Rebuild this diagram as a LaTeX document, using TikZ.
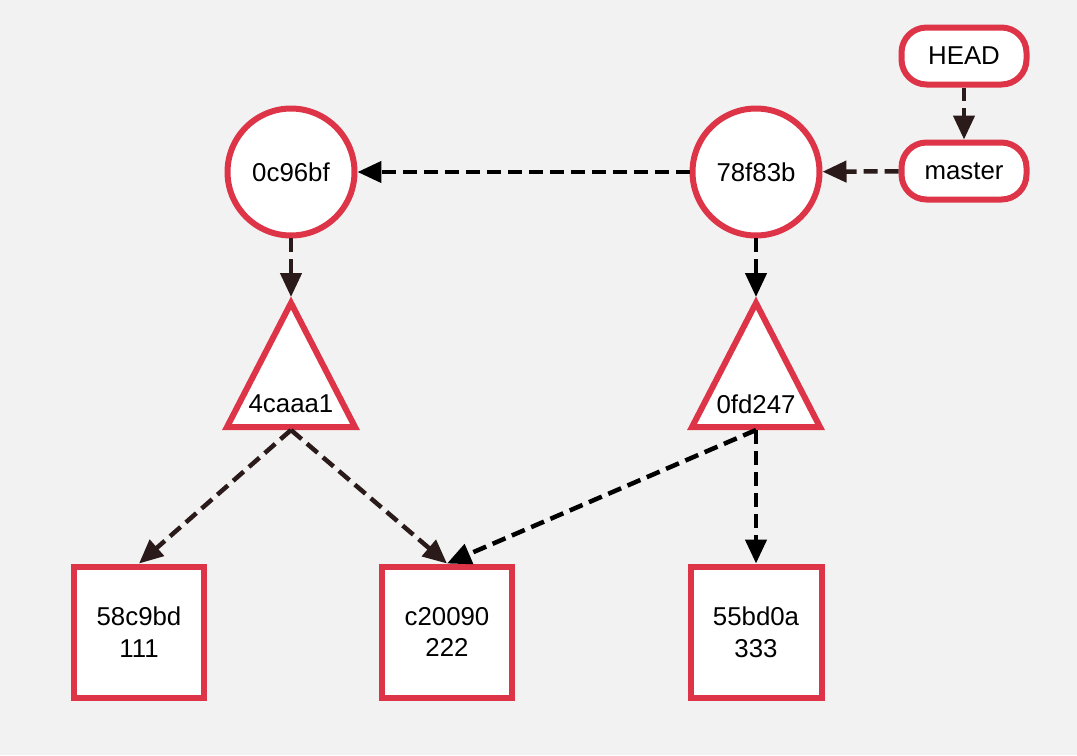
\documentclass[tikz,border=0pt]{standalone}
\usepackage{fontspec}
\setmainfont{Liberation Sans}
\usetikzlibrary{arrows.meta,calc,positioning}
\definecolor{gitred}{RGB}{222,52,72}
\definecolor{bggrey}{RGB}{242,242,242}
\definecolor{darkbrown}{RGB}{43,26,26}
\newcommand{\gitfont}{\fontsize{14.7pt}{18pt}\selectfont}

\begin{document}
\begin{tikzpicture}[x=0.02cm,y=-0.02cm]

\tikzset{commitnode/.style={font=\gitfont,shape=circle,draw=gitred,fill=white,line width=0.12cm,minimum size=2.54cm,inner sep=0pt},
blobnode/.style={font=\gitfont,shape=rectangle,draw=gitred,fill=white,line width=0.12cm,minimum size=2.62cm,inner sep=0pt,align=center},
refnode/.style={font=\gitfont,shape=rectangle,draw=gitred,fill=white,line width=0.12cm,rounded corners=0.5cm,minimum width=2.5cm,minimum height=1.14cm,inner sep=0pt},
treeline/.style={draw=gitred,fill=white,line width=0.12cm},
pointer/.style={color=darkbrown,line width=0.09cm,dash pattern=on 0.28cm off 0.14cm,-{Triangle[length=0.48cm,width=0.42cm]}},
blackpointer/.style={pointer,color=black}}

% Background
\fill[bggrey] (0,0) rectangle (1077,755);
\useasboundingbox (0,0) rectangle (1077,755);

% refs
\node[refnode] (head) at (964,56) {HEAD};
\node[refnode] (master) at (964,171) {master};

% commits
\node[commitnode] (c78f83b) at (756,172) {78f83b};
\node[commitnode] (c0c96bf) at (291,172) {0c96bf};

% trees
\foreach \x/\h in {291/4caaa1, 756/0fd247} {
  \draw[treeline] (\x,303) -- (\x+64,427) -- (\x-64,427) -- cycle;
  \coordinate (top\h) at (\x,297);
  \coordinate (base\h) at (\x,430);
  \node[font=\gitfont] (t\h) at (\x,404) {\h};
}

% blobs
\node[blobnode] (b58c9bd) at (139,632) {58c9bd\\111};
\node[blobnode] (bc20090) at (447,632) {c20090\\222};
\node[blobnode] (b55bd0a) at (756,632) {55bd0a\\333};

% Edges
\draw[pointer] (head) -- (master);
\draw[pointer] (master) -- (c78f83b);
\draw[blackpointer] (c78f83b) -- (c0c96bf);
\draw[pointer] (c0c96bf) -- (top4caaa1);
\draw[blackpointer] (c78f83b) -- (top0fd247);
\draw[pointer] (base4caaa1) -- (b58c9bd.north);
\draw[pointer] (base4caaa1) -- (bc20090.north);
\draw[blackpointer] (base0fd247) -- (bc20090.north);
\draw[blackpointer] (base0fd247) -- (b55bd0a);

\end{tikzpicture}
\end{document}
